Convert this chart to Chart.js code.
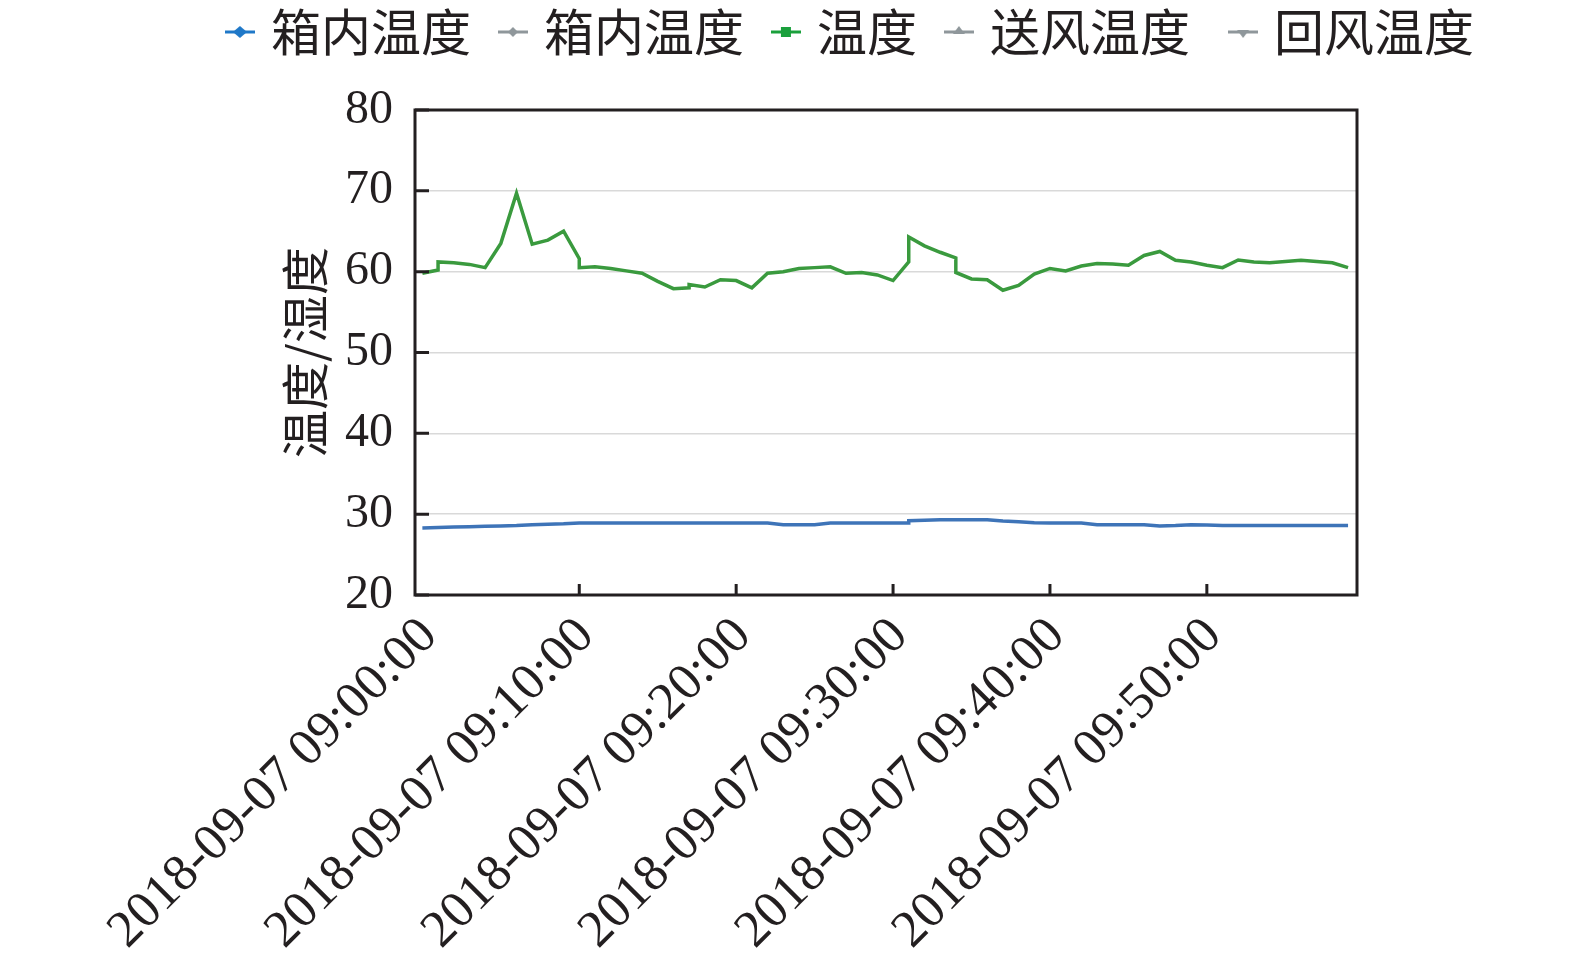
<!DOCTYPE html>
<html><head><meta charset="utf-8">
<script src="https://cdn.jsdelivr.net/npm/chart.js@4.4.1/dist/chart.umd.min.js"></script>
<style>html,body{margin:0;padding:0;background:#fff;overflow:hidden}#wrap{width:1575px;height:965px;position:relative;overflow:hidden}#c{display:block}</style>
</head><body><div id="wrap"><canvas id="c"></canvas></div>
<script>
const seriesLabels = ['箱内温度', '箱内温度', '温度', '送风温度', '回风温度'];
const yTitle = '温度/湿度';
const tickMinutes = [0, 10, 20, 30, 40, 50];
const tickLabels = ['2018-09-07 09:00:00', '2018-09-07 09:10:00', '2018-09-07 09:20:00',
                    '2018-09-07 09:30:00', '2018-09-07 09:40:00', '2018-09-07 09:50:00'];

const blueMinutes = [0,1,2,3,4,5,6,7,8,9,10,11,12,13,14,15,16,17,18,19,20,21,22,23,24,25,26,27,28,29,30,31,31,
  32,33,34,35,36,37,38,39,40,41,42,43,44,45,46,47,48,49,50,51,52,53,54,55,56,57,58,59];
const blueValues = [28.3,28.35,28.4,28.45,28.5,28.55,28.6,28.7,28.75,28.8,28.9,28.9,28.9,28.9,28.9,28.9,28.9,28.9,
  28.9,28.9,28.9,28.9,28.9,28.7,28.7,28.7,28.9,28.9,28.9,28.9,28.9,28.9,29.2,
  29.25,29.3,29.3,29.3,29.3,29.15,29.05,28.95,28.9,28.9,28.9,28.7,28.7,28.7,28.7,28.55,28.6,28.7,28.65,
  28.6,28.6,28.6,28.6,28.6,28.6,28.6,28.6,28.6];

const greenMinutes = [0,1,1,2,3,4,5,6,7,8,9,10,10,11,12,13,14,15,16,17,17,18,19,20,21,22,23,24,25,26,27,28,29,30,
  31,31,32,33,34,34,35,36,37,38,39,40,41,42,43,44,45,46,47,48,49,50,51,52,53,54,55,56,57,58,59];
const greenValues = [59.8,60.2,61.2,61.1,60.9,60.5,63.5,69.7,63.4,63.9,65.0,61.6,60.5,60.6,60.4,60.1,59.8,58.8,57.9,
  58.0,58.4,58.1,59.0,58.9,58.0,59.8,60.0,60.4,60.5,60.6,59.8,59.9,59.6,58.9,
  61.2,64.3,63.2,62.4,61.7,59.9,59.1,59.0,57.7,58.3,59.7,60.4,60.1,60.7,61.0,60.95,60.8,62.0,62.5,61.4,61.2,
  60.8,60.5,61.45,61.2,61.1,61.25,61.4,61.25,61.1,60.5];

const lineColors = ['#3e74b8', '#8f979b', '#3a9a3e', '#8f979b', '#8f979b'];
const markerColors = ['#1f78c8', '#8f979b', '#1aa03c', '#8f979b', '#8f979b'];
const markerShapes = ['diamond', 'smallDiamond', 'square', 'triUp', 'triDown'];
const legendTrail = ['', '', '', ' ', ''];

function makeMarker(color, shape) {
  const c = document.createElement('canvas');
  c.width = 30; c.height = 16;
  const g = c.getContext('2d');
  g.strokeStyle = color; g.fillStyle = color; g.lineWidth = 3;
  g.beginPath(); g.moveTo(0, 8); g.lineTo(30, 8); g.stroke();
  g.beginPath();
  if (shape === 'diamond') { g.moveTo(15, 2); g.lineTo(22, 8); g.lineTo(15, 14); g.lineTo(8, 8); }
  else if (shape === 'smallDiamond') { g.moveTo(15, 3); g.lineTo(20, 8); g.lineTo(15, 13); g.lineTo(10, 8); }
  else if (shape === 'square') { g.rect(10, 3, 10, 10); }
  else if (shape === 'triUp') { g.moveTo(15, 2); g.lineTo(21, 10); g.lineTo(9, 10); }
  else { g.moveTo(9, 6); g.lineTo(21, 6); g.lineTo(15, 14); }
  g.closePath(); g.fill();
  return c;
}
const markers = markerShapes.map((s, i) => makeMarker(markerColors[i], s));

const toPoints = (xs, ys) => xs.map((m, i) => ({x: m, y: ys[i]}));
const seriesData = [toPoints(blueMinutes, blueValues), [], toPoints(greenMinutes, greenValues), [], []];

const ink = '#231f20';
const framePlugin = {
  id: 'frame',
  beforeInit(chart) {
    const orig = chart.legend.fit;
    chart.legend.fit = function () { orig.call(this); this.height += 43; };
  },
  afterDatasetsDraw(chart) {
    const {ctx, chartArea: a, scales: {x, y}} = chart;
    ctx.save();
    ctx.strokeStyle = ink; ctx.lineWidth = 3;
    ctx.beginPath();
    x.ticks.forEach((t, i) => { if (i === 0) return; const px = x.getPixelForValue(t.value); ctx.moveTo(px, a.bottom); ctx.lineTo(px, a.bottom - 11); });
    y.ticks.forEach(t => { const py = y.getPixelForValue(t.value); ctx.moveTo(a.left, py); ctx.lineTo(a.left + 14, py); });
    ctx.stroke();
    ctx.strokeRect(a.left, a.top, a.right - a.left, a.bottom - a.top);
    ctx.restore();
  }
};

new Chart(document.getElementById('c'), {
  type: 'line',
  data: {
    datasets: seriesLabels.map((lab, i) => ({
      label: lab, data: seriesData[i], borderColor: lineColors[i], backgroundColor: lineColors[i],
      borderWidth: 3.5, pointRadius: 0, tension: 0, fill: false
    }))
  },
  options: {
    responsive: true, maintainAspectRatio: false, animation: false,
    layout: {padding: {left: 133, right: 0, top: -29, bottom: 0}},
    plugins: {
      tooltip: {enabled: false},
      legend: {
        position: 'top', align: 'center',
        labels: {
          usePointStyle: true, pointStyleWidth: 12, padding: 36, color: ink,
          font: {family: "'Noto Sans CJK SC'", size: 50},
          generateLabels(chart) {
            const items = Chart.defaults.plugins.legend.labels.generateLabels(chart);
            items.forEach((it, i) => { it.pointStyle = markers[i]; it.fontColor = ink; it.text = it.text + legendTrail[i]; });
            return items;
          }
        }
      }
    },
    scales: {
      x: {
        type: 'linear', min: -0.47, max: 59.57,
        afterBuildTicks(s) { s.ticks = tickMinutes.map(v => ({value: v})); },
        afterFit(s) { s.height = 370; },
        grid: {display: false, drawTicks: false},
        border: {display: false},
        ticks: {
          autoSkip: false, minRotation: 45, maxRotation: 45, padding: 11, labelOffset: 7, color: ink,
          font: {family: "'Liberation Serif'", size: 52},
          callback(v, i) { return tickLabels[i]; }
        }
      },
      y: {
        type: 'linear', min: 20, max: 80,
        afterFit(s) { s.width = 282; },
        grid: {color: '#d9d9d9', lineWidth: 1.5, drawTicks: false},
        border: {display: false},
        ticks: {stepSize: 10, padding: 22, color: ink, font: {family: "'Liberation Serif'", size: 48}},
        title: {display: true, text: yTitle, color: ink, padding: {top: 143, bottom: 0},
                font: {family: "'Noto Sans CJK SC'", size: 48}}
      },
      yRight: {
        type: 'linear', position: 'right', display: true,
        afterFit(s) { s.width = 218; },
        grid: {display: false, drawOnChartArea: false, drawTicks: false},
        border: {display: false},
        ticks: {display: false}
      }
    }
  },
  plugins: [framePlugin]
});
</script></body></html>
